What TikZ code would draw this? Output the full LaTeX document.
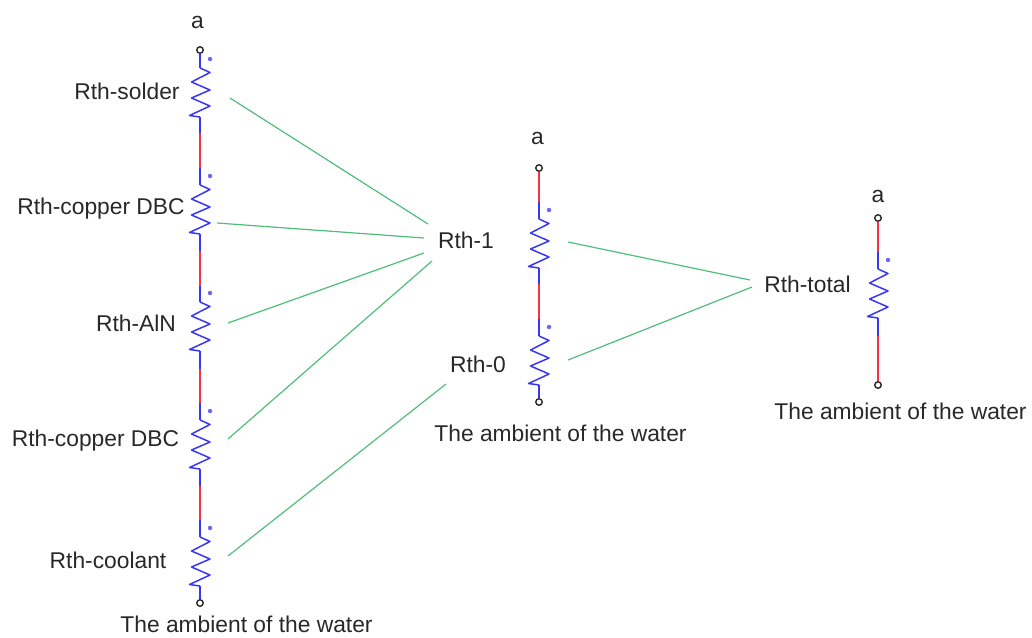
\documentclass[tikz,border=0pt]{standalone}
\usepackage{fontspec}
\setmainfont{Liberation Sans}
\definecolor{wblue}{RGB}{55,55,245}
\definecolor{wred}{RGB}{245,50,70}
\definecolor{wgreen}{RGB}{80,190,120}
\definecolor{wtext}{RGB}{40,40,40}
\tikzset{
  x=1pt,y=-1pt,
  lbl/.style={inner sep=0pt,font=\fontsize{22.8}{27}\selectfont,text=wtext},
  term/.style={circle,draw=wtext,line width=1.4pt,fill=white,minimum size=6.5pt,inner sep=0pt},
  bluew/.style={draw=wblue,line width=1.5pt},
  redw/.style={draw=wred,line width=1.5pt},
  greenw/.style={draw=wgreen,line width=1.2pt},
  pol/.style={circle,fill=wblue!75,minimum size=4.5pt,inner sep=0pt}
}
% #1 name, #2 x, #3 y of top of the zigzag
\newcommand{\resist}[3]{%
  \node[pol] (#1d) at (#2+10,#3-9) {};
  \coordinate (#1t) at (#2,#3);
  \coordinate (#1b) at (#2,#3+49);
  \draw[bluew,line join=round] (#1t) -- (#2+10,#3+4.5) -- (#2-8.5,#3+14) -- (#2+10,#3+22) -- (#2-8.5,#3+30) -- (#2+10,#3+38) -- (#2-10.5,#3+47.5) -- (#1b);
}
\begin{document}
\begin{tikzpicture}
\useasboundingbox (0,0) rectangle (1032,637);
% column 1
\resist{a}{200}{68}
\resist{b}{200}{185}
\resist{c}{200}{302}
\resist{d}{200}{420}
\resist{e}{200}{537}
\coordinate (ab1) at (200,133); \coordinate (ab2) at (200,168);
\coordinate (bc1) at (200,251); \coordinate (bc2) at (200,286);
\coordinate (cd1) at (200,369); \coordinate (cd2) at (200,403);
\coordinate (de1) at (200,486); \coordinate (de2) at (200,520);
\node[term] (ta) at (200,50) {};
\node[term] (te) at (200,603) {};
\draw[bluew] (ta) -- (at);
\draw[bluew] (ab) -- (ab1); \draw[redw] (ab1) -- (ab2); \draw[bluew] (ab2) -- (bt);
\draw[bluew] (bb) -- (bc1); \draw[redw] (bc1) -- (bc2); \draw[bluew] (bc2) -- (ct);
\draw[bluew] (cb) -- (cd1); \draw[redw] (cd1) -- (cd2); \draw[bluew] (cd2) -- (dt);
\draw[bluew] (db) -- (de1); \draw[redw] (de1) -- (de2); \draw[bluew] (de2) -- (et);
\draw[bluew] (eb) -- (te);
% column 2
\resist{f}{539}{219}
\resist{g}{539}{336}
\node[term] (tf) at (539,168) {};
\node[term] (tg) at (539,402) {};
\coordinate (f1) at (539,202);
\coordinate (fg1) at (539,284); \coordinate (fg2) at (539,319);
\draw[redw] (tf) -- (f1); \draw[bluew] (f1) -- (ft);
\draw[bluew] (fb) -- (fg1); \draw[redw] (fg1) -- (fg2); \draw[bluew] (fg2) -- (gt);
\draw[bluew] (gb) -- (tg);
% column 3
\resist{h}{878}{269}
\node[term] (th) at (878,218) {};
\node[term] (ti) at (878,385) {};
\coordinate (h1) at (878,252); \coordinate (h2) at (878,336);
\draw[redw] (th) -- (h1); \draw[bluew] (h1) -- (ht);
\draw[bluew] (hb) -- (h2); \draw[redw] (h2) -- (ti);
% labels
\node[lbl] (la1) at (197.5,22) {a};
\node[lbl] (l1) at (127,91) {Rth-solder};
\node[lbl] (l2) at (101,208.5) {Rth-copper DBC};
\node[lbl] (l3) at (136,323) {Rth-AlN};
\node[lbl] (l4) at (95.5,440.5) {Rth-copper DBC};
\node[lbl] (l5) at (108,560) {Rth-coolant};
\node[lbl] (amb1) at (246.5,624) {The ambient of the water};
\node[lbl] (r1) at (466,240) {Rth-1};
\node[lbl] (r0) at (478,364) {Rth-0};
\node[lbl] (la2) at (537.5,138) {a};
\node[lbl] (amb2) at (560.5,433) {The ambient of the water};
\node[lbl] (rt) at (807.5,284) {Rth-total};
\node[lbl] (la3) at (878,196) {a};
\node[lbl] (amb3) at (900.5,411) {The ambient of the water};
% green leaders
\coordinate (g1s) at (230,98);  \coordinate (g1e) at (428,224);
\coordinate (g2s) at (217,223); \coordinate (g2e) at (424,238);
\coordinate (g3s) at (228,323); \coordinate (g3e) at (424,253);
\coordinate (g4s) at (228,439); \coordinate (g4e) at (432,261);
\coordinate (g5s) at (228,556); \coordinate (g5e) at (446,384);
\coordinate (g6s) at (568,242); \coordinate (g6e) at (750,280);
\coordinate (g7s) at (568,360); \coordinate (g7e) at (752,287);
\foreach \i in {1,...,7} \draw[greenw] (g\i s) -- (g\i e);
\end{tikzpicture}
\end{document}
